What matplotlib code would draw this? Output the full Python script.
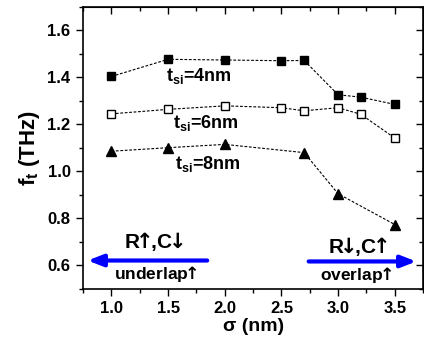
import matplotlib
matplotlib.use("Agg")
import matplotlib.pyplot as plt
from matplotlib.ticker import MultipleLocator

plt.rcParams['font.family'] = ['Liberation Sans', 'DejaVu Sans']
plt.rcParams['font.weight'] = 'bold'
plt.rcParams['mathtext.fontset'] = 'custom'
plt.rcParams['mathtext.rm'] = 'Liberation Sans:bold'
plt.rcParams['mathtext.it'] = 'Liberation Sans:bold'
plt.rcParams['mathtext.bf'] = 'Liberation Sans:bold'
plt.rcParams['mathtext.sf'] = 'DejaVu Sans'

sigma = [1.0, 1.5, 2.0, 2.5, 2.7, 3.0, 3.2, 3.5]
ft_4nm = [1.404, 1.477, 1.474, 1.471, 1.472, 1.326, 1.316, 1.285]
ft_6nm = [1.245, 1.264, 1.279, 1.271, 1.258, 1.271, 1.243, 1.142]
sigma_8nm = [1.0, 1.5, 2.0, 2.7, 3.0, 3.5]
ft_8nm = [1.086, 1.101, 1.115, 1.080, 0.905, 0.774]
xticks = [1.0, 1.5, 2.0, 2.5, 3.0, 3.5]
yticks = [0.6, 0.8, 1.0, 1.2, 1.4, 1.6]

fig = plt.figure(figsize=(4.24, 3.44), dpi=100)
ax = fig.add_axes([0.196, 0.16, 0.802, 0.82])

lkw = dict(color='black', linestyle=(0, (2.5, 1.5)), linewidth=0.8)
ax.plot(sigma, ft_4nm, marker='s', markersize=5.5, markerfacecolor='black',
        markeredgecolor='black', **lkw)
ax.plot(sigma, ft_6nm, marker='s', markersize=5.5, markerfacecolor='white',
        markeredgecolor='black', markeredgewidth=1.0, **lkw)
ax.plot(sigma_8nm, ft_8nm, marker='^', markersize=7, markerfacecolor='black',
        markeredgecolor='black', **lkw)

tkw = dict(fontsize=13, fontweight='bold', ha='left', va='center')
ax.text(1.485, 1.405, r'$\mathregular{t_{si}}$=4nm', **tkw)
ax.text(1.546, 1.205, r'$\mathregular{t_{si}}$=6nm', **tkw)
ax.text(1.56, 1.03, r'$\mathregular{t_{si}}$=8nm', **tkw)

akw = dict(arrowstyle='-|>,head_length=0.9,head_width=0.35', color='#0000ff',
           linewidth=3, shrinkA=0, shrinkB=0)
ax.annotate('', xy=(0.79, 0.621), xytext=(1.845, 0.621), arrowprops=akw)
ax.annotate('', xy=(3.69, 0.617), xytext=(2.74, 0.617), arrowprops=akw)

up = r'$\!\mathsf{↑}\!$'
dn = r'$\!\mathsf{↓}\!$'
ax.text(1.37, 0.700, 'R' + up + ',C' + dn, fontsize=15, fontweight='bold', ha='center', va='center')
ax.text(1.39, 0.564, 'underlap' + up, fontsize=12.5, fontweight='bold', ha='center', va='center')
ax.text(3.17, 0.680, 'R' + dn + ',C' + up, fontsize=15, fontweight='bold', ha='center', va='center')
ax.text(3.16, 0.560, 'overlap' + up, fontsize=12.5, fontweight='bold', ha='center', va='center')

ax.set_xlim(0.75, 3.75)
ax.set_ylim(0.5, 1.7)
ax.set_xticks(xticks)
ax.set_yticks(yticks)
ax.set_xticklabels([f'{v:.1f}' for v in xticks])
ax.set_yticklabels([f'{v:.1f}' for v in yticks])
ax.xaxis.set_minor_locator(MultipleLocator(0.25))
ax.yaxis.set_minor_locator(MultipleLocator(0.1))
ax.tick_params(axis='both', which='major', direction='out', length=5, width=1,
               labelsize=12, pad=4)
ax.tick_params(axis='both', which='minor', direction='out', length=3, width=1)
for lab in ax.get_xticklabels() + ax.get_yticklabels():
    lab.set_fontweight('bold')

secx = ax.secondary_xaxis('top')
secx.set_xticks(xticks)
secx.xaxis.set_minor_locator(MultipleLocator(0.25))
secx.tick_params(which='major', direction='in', length=5, width=1, labeltop=False)
secx.tick_params(which='minor', direction='in', length=3, width=1)
secy = ax.secondary_yaxis('right')
secy.set_yticks(yticks)
secy.yaxis.set_minor_locator(MultipleLocator(0.1))
secy.tick_params(which='major', direction='in', length=5, width=1, labelright=False)
secy.tick_params(which='minor', direction='in', length=3, width=1)

for s in ax.spines.values():
    s.set_linewidth(1.2)

ax.set_xlabel('σ (nm)', fontsize=14, fontweight='bold', labelpad=1)
ax.set_ylabel(r'$\mathregular{f_t}$ (THz)', fontsize=16, fontweight='bold', labelpad=4)

fig.savefig('out.png', dpi=100)
